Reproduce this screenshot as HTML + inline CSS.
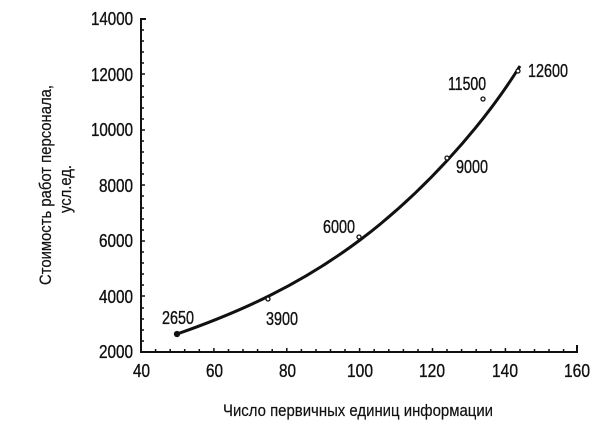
<!DOCTYPE html>
<html><head><meta charset="utf-8"><style>
html,body{margin:0;padding:0;background:#fff;}
svg{display:block}
text{font-family:"Liberation Sans",sans-serif;fill:#111;stroke:#111;stroke-width:0.35;}
</style></head><body>
<svg width="600" height="426" viewBox="0 0 600 426" xmlns="http://www.w3.org/2000/svg">
<g stroke="#111" stroke-width="2" fill="none">
<path d="M146 19 H141 V352 H577 V345"/>
</g>
<g stroke="#111" stroke-width="1.5">
<path d="M141 30h3 M141 41h3 M141 52h3 M141 63h3 M141 74h4 M141 86h3 M141 97h3 M141 108h3 M141 119h3 M141 130h4 M141 141h3 M141 152h3 M141 163h3 M141 174h3 M141 185h4 M141 196h3 M141 208h3 M141 219h3 M141 230h3 M141 241h4 M141 252h3 M141 263h3 M141 274h3 M141 285h3 M141 296h4 M141 308h3 M141 319h3 M141 330h3 M141 341h3"/>
<path d="M155.6 352v-3 M170.2 352v-3 M184.7 352v-3 M199.3 352v-3 M213.9 352v-4 M228.5 352v-3 M243 352v-3 M257.6 352v-3 M272.2 352v-3 M286.8 352v-4 M301.4 352v-3 M316 352v-3 M330.5 352v-3 M345 352v-3 M359.6 352v-4 M374.2 352v-3 M388.8 352v-3 M403.4 352v-3 M418 352v-3 M432.5 352v-4 M447 352v-3 M461.6 352v-3 M476.2 352v-3 M490.8 352v-3 M505.4 352v-4 M520 352v-3 M534.5 352v-3 M549 352v-3 M563.6 352v-3"/>
</g>
<path d="M177 334 C 240 312, 300 285, 360 240 C 420 195, 480 130, 520 66" stroke="#111" stroke-width="3" fill="none"/>
<g fill="#fff" stroke="#111" stroke-width="1.3">
<circle cx="177" cy="334" r="2.5" fill="#111"/>
<circle cx="268" cy="299" r="2"/>
<circle cx="359" cy="237" r="2"/>
<circle cx="447" cy="158" r="2"/>
<circle cx="483" cy="99" r="2"/>
<circle cx="518" cy="71" r="2"/>
</g>
<g font-size="18" lengthAdjust="spacingAndGlyphs">
<text x="91" y="25" textLength="42" lengthAdjust="spacingAndGlyphs">14000</text>
<text x="91" y="81" textLength="42" lengthAdjust="spacingAndGlyphs">12000</text>
<text x="91" y="136" textLength="42" lengthAdjust="spacingAndGlyphs">10000</text>
<text x="99" y="192" textLength="34" lengthAdjust="spacingAndGlyphs">8000</text>
<text x="99" y="247" textLength="34" lengthAdjust="spacingAndGlyphs">6000</text>
<text x="99" y="303" textLength="34" lengthAdjust="spacingAndGlyphs">4000</text>
<text x="99" y="358" textLength="34" lengthAdjust="spacingAndGlyphs">2000</text>
</g>
<g font-size="18">
<text x="133" y="377" textLength="17" lengthAdjust="spacingAndGlyphs">40</text>
<text x="206" y="377" textLength="17" lengthAdjust="spacingAndGlyphs">60</text>
<text x="279" y="377" textLength="17" lengthAdjust="spacingAndGlyphs">80</text>
<text x="347" y="377" textLength="26" lengthAdjust="spacingAndGlyphs">100</text>
<text x="419" y="377" textLength="26" lengthAdjust="spacingAndGlyphs">120</text>
<text x="492" y="377" textLength="26" lengthAdjust="spacingAndGlyphs">140</text>
<text x="564" y="377" textLength="26" lengthAdjust="spacingAndGlyphs">160</text>
</g>
<g font-size="18">
<text x="162" y="324" textLength="32" lengthAdjust="spacingAndGlyphs">2650</text>
<text x="266" y="325" textLength="32" lengthAdjust="spacingAndGlyphs">3900</text>
<text x="323" y="233" textLength="32" lengthAdjust="spacingAndGlyphs">6000</text>
<text x="456" y="173" textLength="32" lengthAdjust="spacingAndGlyphs">9000</text>
<text x="448" y="90" textLength="38" lengthAdjust="spacingAndGlyphs">11500</text>
<text x="528" y="77" textLength="40" lengthAdjust="spacingAndGlyphs">12600</text>
</g>
<text x="223" y="416" font-size="17" textLength="270" lengthAdjust="spacingAndGlyphs" style="stroke-width:0.2">Число первичных единиц информации</text>
<g font-size="17">
<text transform="translate(51 285) rotate(-90)" textLength="200" lengthAdjust="spacingAndGlyphs" style="stroke-width:0.2">Стоимость работ персонала,</text>
<text transform="translate(71 213) rotate(-90)" textLength="48" lengthAdjust="spacingAndGlyphs" style="stroke-width:0.2">усл.ед.</text>
</g>
</svg>
</body></html>
